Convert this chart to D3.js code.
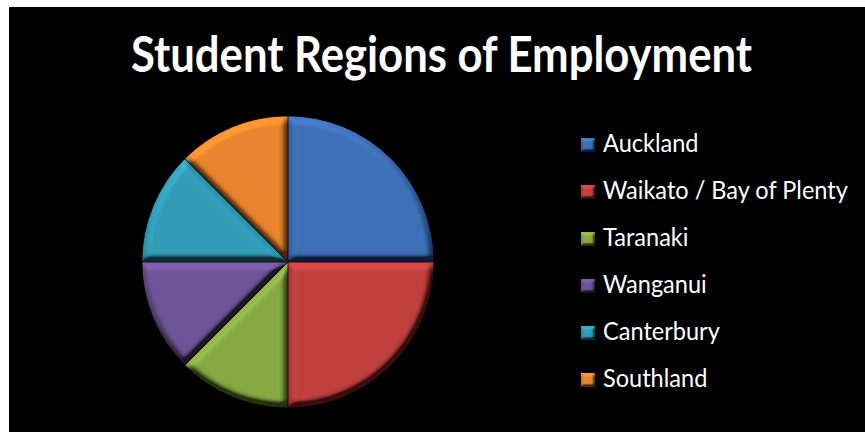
<!DOCTYPE html>
<html lang="en">
<head>
    <meta charset="UTF-8">
    <script src="https://d3js.org/d3.v7.min.js"></script>
    <title>Student Regions of Employment</title>
    <style>
        body { margin: 0; background: #fff; }
    </style>
</head>
<body>
    <div id="chart"></div>
    <script>
        // data
        const regions = ["Auckland", "Waikato / Bay of Plenty", "Taranaki", "Wanganui", "Canterbury", "Southland"];
        const students = [2, 2, 1, 1, 1, 1];
        const colours = ["#3e70b6", "#c0403e", "#88a843", "#6f5497", "#319cb6", "#e8852d"];
        const title = "Student Regions of Employment";

        const W = 865, H = 432;
        const font = "'Liberation Sans Narrow', Lato, 'DejaVu Sans', sans-serif";

        const svg = d3.select("#chart")
            .append("svg")
            .attr("width", W)
            .attr("height", H);

        // bevel look, light from the top left
        const defs = svg.append("defs");
        const bevel = (id, blur, scale) => {
            const f = defs.append("filter").attr("id", id)
                .attr("x", "-10%").attr("y", "-10%").attr("width", "120%").attr("height", "120%");
            f.append("feGaussianBlur").attr("in", "SourceAlpha").attr("stdDeviation", blur).attr("result", "blur");
            f.append("feDiffuseLighting").attr("in", "blur").attr("surfaceScale", scale)
                .attr("diffuseConstant", 1).attr("lighting-color", "#fff").attr("result", "diff")
                .append("feDistantLight").attr("azimuth", 250).attr("elevation", 45);
            f.append("feComposite").attr("in", "SourceGraphic").attr("in2", "diff")
                .attr("operator", "arithmetic").attr("k1", 1.3).attr("k2", 0.08).attr("k3", 0).attr("k4", 0)
                .attr("result", "lit");
            f.append("feComposite").attr("in", "lit").attr("in2", "SourceAlpha").attr("operator", "in");
        };
        bevel("bevel", 3.5, 11);
        bevel("bevelSmall", 1.6, 5);

        svg.append("rect")
            .attr("x", 9).attr("y", 7)
            .attr("width", W - 9).attr("height", H - 7)
            .attr("fill", "#000");

        // title
        const t = svg.append("text")
            .attr("x", 441.5).attr("y", 72)
            .attr("text-anchor", "middle")
            .attr("fill", "#fff")
            .attr("font-family", font)
            .attr("font-weight", "bold")
            .attr("font-size", 50)
            .text(title);
        t.attr("textLength", 621).attr("lengthAdjust", "spacingAndGlyphs");

        // pie
        const cx = 288, cy = 262, r = 146;
        const pie = d3.pie().sort(null).value(d => d);
        const arc = d3.arc().innerRadius(0).outerRadius(r);

        const g = svg.append("g").attr("transform", `translate(${cx},${cy})`);
        g.selectAll("path")
            .data(pie(students))
            .join("path")
            .attr("d", arc)
            .attr("fill", (d, i) => colours[i])
            .attr("filter", "url(#bevel)");
        g.selectAll("path.seam")
            .data(pie(students))
            .join("path")
            .attr("class", "seam")
            .attr("d", arc)
            .attr("fill", "none")
            .attr("stroke", "rgba(0,0,0,0.45)")
            .attr("stroke-width", 1);

        // legend
        const legend = svg.append("g");
        const rowY = i => 145 + i * 47;
        legend.selectAll("rect")
            .data(regions)
            .join("rect")
            .attr("x", 581).attr("y", (d, i) => rowY(i) - 7)
            .attr("width", 14).attr("height", 14)
            .attr("fill", (d, i) => colours[i])
            .attr("filter", "url(#bevelSmall)");

        const labels = legend.selectAll("text")
            .data(regions)
            .join("text")
            .attr("fill", "#fff")
            .attr("font-family", font)
            .attr("font-size", 25.5)
            .text(d => d);

        // squeeze labels to the width of the longest one in the picture
        const longest = labels.filter(d => d === regions[1]).node().getComputedTextLength();
        const sx = 245 / longest;
        labels.attr("transform", (d, i) => `translate(603,${rowY(i) + 7}) scale(${sx},1)`);
    </script>
</body>
</html>
